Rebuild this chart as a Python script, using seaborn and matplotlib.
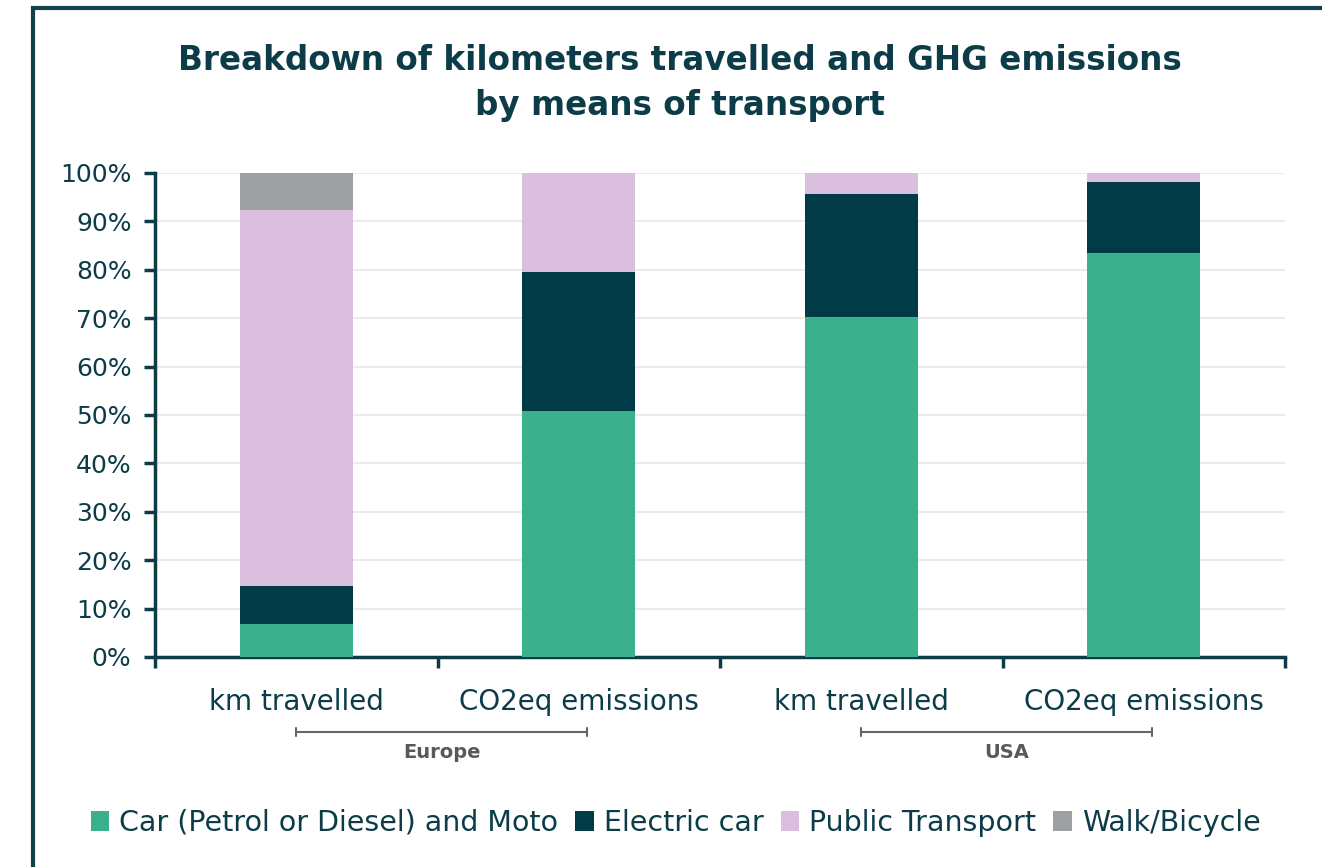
import matplotlib
matplotlib.use("Agg")
import matplotlib.pyplot as plt
import matplotlib.transforms as mtransforms
from matplotlib.patches import Rectangle
import seaborn as sns
import pandas as pd
import numpy as np

# ---- data ----
bar_ids = ["Europe km", "Europe CO2", "USA km", "USA CO2"]
tick_labels = ["km travelled", "CO2eq emissions", "km travelled", "CO2eq emissions"]
groups = ["Europe", "USA"]
series = ["Car (Petrol or Diesel) and Moto", "Electric car", "Public Transport", "Walk/Bicycle"]
car = [6.8, 50.9, 70.2, 83.4]
electric = [7.9, 28.6, 25.5, 14.7]
public = [77.7, 20.5, 4.3, 1.9]
walk = [7.6, 0.0, 0.0, 0.0]
colors = ["#3AB08C", "#023B48", "#DAC0DE", "#9DA1A3"]

sns.set_theme(style="white")
plt.rcParams["font.family"] = ["DejaVu Sans"]

dark = "#0C3C48"
fig = plt.figure(figsize=(13.22, 8.67), dpi=100)
ax = fig.add_axes([155/1322, 1-657/867, (1285-155)/1322, (657-173)/867])

df = pd.DataFrame({"bar": bar_ids, "car": car, "electric": electric,
                   "public": public, "walk": walk})
vals = df[["car", "electric", "public", "walk"]].to_numpy()
cum = np.cumsum(vals, axis=1)
for i in range(3, -1, -1):
    d = pd.DataFrame({"bar": bar_ids, "v": cum[:, i]})
    sns.barplot(data=d, x="bar", y="v", order=bar_ids, color=colors[i],
                width=0.4, ax=ax, saturation=1, edgecolor="none",
                label=series[i], zorder=3 + (3 - i))

ax.set_ylim(0, 100)
ax.set_xlim(-0.5, 3.5)
ax.set_yticks(np.arange(0, 101, 10))
ax.set_yticklabels([f"{v}%" for v in range(0, 101, 10)])
ax.yaxis.grid(True, color="#EBEBEB", linewidth=1.5, zorder=0)
ax.set_axisbelow(True)
ax.set_xlabel("")
ax.set_ylabel("")
ax.set_xticks(range(4))
ax.set_xticklabels(tick_labels)
for s in ["top", "right"]:
    ax.spines[s].set_visible(False)
for s in ["left", "bottom"]:
    ax.spines[s].set_color(dark)
    ax.spines[s].set_linewidth(2.5)
ax.tick_params(axis="y", which="major", left=True, length=8, width=2.5,
               color=dark, labelsize=18, labelcolor=dark, pad=9)
ax.tick_params(axis="x", which="major", bottom=False, labelsize=20,
               labelcolor=dark, pad=16)
ax.set_xticks([-0.5, 0.5, 1.5, 2.5, 3.5], minor=True)
ax.tick_params(axis="x", which="minor", bottom=True, length=8, width=2.5,
               color=dark)

# group brackets
trans = mtransforms.blended_transform_factory(ax.transData, fig.transFigure)
yb = 1 - 732/867
for gi, g in enumerate(groups):
    x0, x1 = 2*gi + 0.0, 2*gi + 1.03
    ax.plot([x0, x1], [yb, yb], color="#666666", lw=1.5, transform=trans,
            clip_on=False)
    for xx in (x0, x1):
        ax.plot([xx, xx], [yb - 0.005, yb + 0.005], color="#666666", lw=1.5,
                transform=trans, clip_on=False)
    ax.text((x0 + x1) / 2, 1 - 752/867, g, transform=trans, ha="center",
            va="center", fontsize=14, fontweight="bold", color="#595959")

# title
fig.text(0.5145, 1 - 83/867, "Breakdown of kilometers travelled and GHG emissions\nby means of transport",
         ha="center", va="center", fontsize=23.5, fontweight="bold", color=dark,
         linespacing=1.45)

# legend
handles, labels = ax.get_legend_handles_labels()
order = [labels.index(s) for s in series]
leg = fig.legend([handles[i] for i in order], [labels[i] for i in order],
                 loc="center", bbox_to_anchor=(0.511, 1 - 823/867), ncol=4,
                 frameon=False, fontsize=20.5, handlelength=0.65,
                 handleheight=0.65, handletextpad=0.35, columnspacing=0.6)
for t in leg.get_texts():
    t.set_color(dark)
if ax.get_legend() is not None:
    ax.get_legend().remove()

# outer frame
fig.patches.append(Rectangle((33/1322, -0.1), 1.2, 0.1 + (1 - 8/867),
                             transform=fig.transFigure, fill=False,
                             edgecolor="#12414C", linewidth=3))

fig.savefig("out.png", dpi=100)
